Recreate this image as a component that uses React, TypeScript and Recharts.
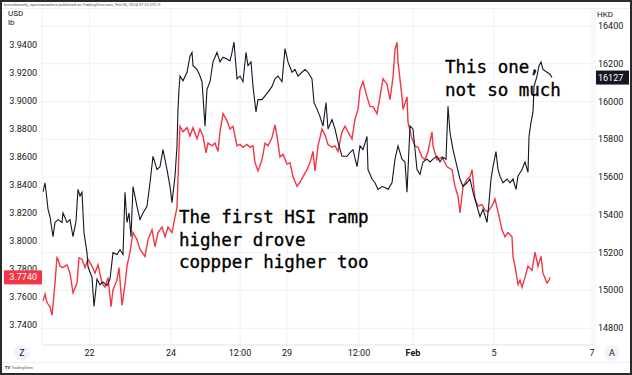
import React from 'react';
import { LineChart, Line, XAxis, YAxis, CartesianGrid } from 'recharts';

// Copper futures, USD/lb, as [bar, close]
const copperSeries: [number, number][] = [
  [1, 3.757], [3, 3.762], [5, 3.756], [8, 3.753], [10, 3.747], [11, 3.754], [13, 3.77], [15, 3.788],
  [16, 3.787], [18, 3.782], [21, 3.781], [25, 3.783], [28, 3.777], [31, 3.763], [35, 3.77], [37, 3.788],
  [40, 3.787], [43, 3.781], [46, 3.787], [50, 3.782], [53, 3.777], [56, 3.783], [60, 3.77], [63, 3.767],
  [66, 3.774], [69, 3.753], [71, 3.765], [75, 3.772], [77, 3.781], [80, 3.754], [83, 3.769], [85, 3.782],
  [88, 3.792], [91, 3.806], [95, 3.801], [98, 3.794], [103, 3.789], [106, 3.801], [110, 3.808], [113, 3.796],
  [116, 3.806], [120, 3.81], [123, 3.803], [126, 3.81], [130, 3.806], [133, 3.817], [135, 3.824], [136, 3.844],
  [137, 3.865], [138, 3.882], [141, 3.878], [145, 3.881], [148, 3.875], [151, 3.881], [155, 3.873], [158, 3.88],
  [161, 3.875], [164, 3.863], [166, 3.87], [170, 3.868], [173, 3.87], [176, 3.864], [178, 3.878], [181, 3.891],
  [185, 3.886], [188, 3.88], [191, 3.882], [195, 3.868], [198, 3.869], [201, 3.867], [205, 3.869], [208, 3.867],
  [211, 3.868], [213, 3.856], [216, 3.85], [220, 3.858], [223, 3.87], [226, 3.868], [230, 3.874], [233, 3.883],
  [235, 3.875], [238, 3.86], [241, 3.862], [245, 3.855], [248, 3.856], [251, 3.846], [255, 3.839], [258, 3.842],
  [261, 3.846], [265, 3.851], [268, 3.856], [271, 3.864], [273, 3.85], [276, 3.868], [280, 3.88], [283, 3.876],
  [286, 3.869], [290, 3.867], [293, 3.868], [296, 3.864], [300, 3.878], [303, 3.882], [306, 3.878], [310, 3.873],
  [313, 3.887], [316, 3.894], [318, 3.908], [321, 3.914], [325, 3.903], [328, 3.896], [331, 3.896], [335, 3.891],
  [338, 3.903], [341, 3.916], [345, 3.912], [348, 3.901], [351, 3.917], [353, 3.937], [355, 3.942], [356, 3.928],
  [360, 3.903], [361, 3.894], [365, 3.903], [366, 3.885], [370, 3.873], [373, 3.868], [376, 3.867], [380, 3.86],
  [383, 3.858], [386, 3.864], [390, 3.878], [391, 3.868], [395, 3.858], [400, 3.86], [405, 3.853], [410, 3.851],
  [413, 3.839], [416, 3.832], [418, 3.82], [421, 3.839], [425, 3.844], [428, 3.846], [430, 3.851], [433, 3.83],
  [436, 3.825], [440, 3.826], [443, 3.822], [446, 3.821], [450, 3.825], [453, 3.83], [456, 3.821], [460, 3.808],
  [463, 3.803], [466, 3.806], [470, 3.803], [471, 3.789], [473, 3.782], [476, 3.769], [478, 3.772], [480, 3.767],
  [483, 3.774], [486, 3.782], [490, 3.779], [493, 3.792], [496, 3.782], [499, 3.789], [501, 3.777], [505, 3.77],
  [507, 3.772], [508, 3.774],
];

// Hang Seng futures, HKD, as [bar, close]
const hsiSeries: [number, number][] = [
  [1, 15520], [3, 15570], [5, 15480], [6, 15430], [8, 15390], [11, 15285], [13, 15360], [16, 15375],
  [20, 15360], [21, 15410], [25, 15360], [28, 15375], [31, 15285], [34, 15365], [36, 15535], [38, 15500],
  [40, 15520], [42, 15305], [45, 15200], [46, 15125], [50, 15070], [52, 14915], [55, 15060], [58, 15030],
  [61, 15045], [65, 15025], [68, 15060], [71, 15200], [75, 15190], [78, 15215], [81, 15190], [83, 15520],
  [85, 15360], [87, 15410], [89, 15285], [91, 15550], [95, 15445], [98, 15375], [101, 15410], [105, 15445],
  [108, 15570], [111, 15710], [115, 15640], [118, 15655], [121, 15745], [125, 15640], [128, 15550], [130, 15465],
  [133, 15605], [135, 15765], [136, 15960], [137, 16065], [138, 16135], [141, 16110], [145, 16155], [148, 16240],
  [150, 16260], [151, 16190], [155, 16170], [158, 16135], [160, 16105], [163, 15870], [165, 16065], [168, 16105],
  [171, 16210], [175, 16260], [178, 16210], [181, 16235], [185, 16225], [188, 16215], [190, 16260], [192, 16315],
  [195, 16120], [198, 16135], [201, 16105], [204, 16260], [206, 16190], [209, 16210], [211, 16080], [214, 15945],
  [216, 16010], [220, 16010], [223, 16030], [226, 16050], [230, 16080], [233, 16120], [236, 16135], [240, 16105],
  [243, 16280], [246, 16210], [250, 16155], [253, 16170], [256, 16135], [260, 16155], [263, 16170], [266, 16155],
  [270, 16120], [272, 15995], [275, 15960], [278, 15920], [281, 15870], [284, 15995], [286, 15855], [290, 15905],
  [293, 15855], [296, 15785], [300, 15710], [305, 15710], [308, 15730], [311, 15745], [315, 15655], [318, 15765],
  [321, 15745], [325, 15815], [326, 15640], [330, 15590], [333, 15570], [336, 15535], [340, 15550], [343, 15545],
  [346, 15535], [350, 15570], [353, 15695], [356, 15765], [360, 15695], [363, 15680], [365, 15520], [368, 15870],
  [371, 15855], [373, 15745], [375, 15640], [378, 15615], [381, 15680], [385, 15695], [388, 15680], [391, 15695],
  [395, 15710], [398, 15680], [401, 15705], [404, 15695], [406, 15975], [408, 15835], [411, 15745], [415, 15655],
  [418, 15590], [421, 15550], [425, 15570], [428, 15590], [431, 15520], [435, 15445], [438, 15390], [441, 15430],
  [445, 15360], [447, 15465], [449, 15590], [451, 15655], [454, 15735], [456, 15640], [458, 15605], [461, 15570],
  [465, 15590], [468, 15570], [471, 15590], [474, 15535], [476, 15605], [480, 15640], [483, 15680], [486, 15625],
  [487, 15815], [489, 15890], [491, 15945], [492, 16080], [495, 16135], [497, 16190], [499, 16210], [501, 16170],
  [505, 16155], [508, 16145], [510, 16127],
];

const xTickBars = [47.5, 129, 198, 245, 317, 371, 452, 550];
const xTickLabels = ['22', '24', '12:00', '29', '12:00', 'Feb', '5', '7'];
const usdTicks = [3.74, 3.76, 3.78, 3.8, 3.82, 3.84, 3.86, 3.88, 3.9, 3.92, 3.94];
const hkdTicks = [14800, 15000, 15200, 15400, 15600, 15800, 16000, 16200, 16400];
const lastCopper = 3.774;
const lastHsi = 16127;

const copperData = copperSeries.map(([bar, usd]) => ({ bar, usd }));
const hsiData = hsiSeries.map(([bar, hkd]) => ({ bar, hkd }));

const FONT = 'Roboto, "DejaVu Sans", sans-serif';
const MONO = '"DejaVu Sans Mono", monospace';
const INK = '#131722';
const RED = '#f23645';

const UsdTick = ({ y, payload }: any) => {
  const label = payload.value.toFixed(4);
  if (payload.value === lastCopper) {
    return (
      <g>
        <rect x={4} y={y - 7} width={38} height={14} fill={RED} />
        <text x={37} y={y} textAnchor="end" dominantBaseline="central" fontSize={9} fontFamily={FONT} fill="#fff">
          {label}
        </text>
      </g>
    );
  }
  return (
    <text x={37} y={y} textAnchor="end" dominantBaseline="central" fontSize={9} fontFamily={FONT} fill={INK}>
      {label}
    </text>
  );
};

const HkdTick = ({ y, payload }: any) => {
  if (payload.value === lastHsi) {
    return (
      <g>
        <rect x={596} y={y - 7} width={33} height={14} fill={INK} />
        <text x={598} y={y} dominantBaseline="central" fontSize={9} fontFamily={FONT} fill="#fff">
          {payload.value}
        </text>
      </g>
    );
  }
  return (
    <text x={598} y={y} dominantBaseline="central" fontSize={9} fontFamily={FONT} fill={INK}>
      {payload.value}
    </text>
  );
};

const DateTick = ({ x, y, payload }: any) => {
  const label = xTickLabels[xTickBars.indexOf(payload.value)];
  return (
    <text x={x} y={y} textAnchor="middle" dominantBaseline="central" fontSize={9} fontFamily={FONT}
      fontWeight={label === 'Feb' ? 'bold' : 'normal'} fill={INK}>
      {label}
    </text>
  );
};

export default function App() {
  return (
    <div style={{ position: 'relative', width: 632, height: 375, background: '#fff' }}>
      <style>{'body{margin:0}'}</style>
      <LineChart width={632} height={375} margin={{ top: 9, right: 0, bottom: 0, left: 0 }}>
        <CartesianGrid yAxisId="hkd" horizontalValues={hkdTicks} verticalValues={xTickBars} stroke="#eef0f5" />
        <XAxis type="number" dataKey="bar" domain={[0, 553]} ticks={xTickBars} interval={0} height={30}
          allowDataOverflow tickSize={6} tickMargin={2} tickLine={false} axisLine={{ stroke: '#e0e3eb' }}
          tick={<DateTick />} />
        <YAxis yAxisId="usd" orientation="left" width={42} domain={[3.72566, 3.96581]} ticks={[...usdTicks, lastCopper]}
          interval={0} allowDataOverflow tickLine={false} axisLine={{ stroke: '#eef0f4' }} tick={<UsdTick />} />
        <YAxis yAxisId="hkd" orientation="right" width={37} domain={[14711, 16490]} ticks={[...hkdTicks, lastHsi]}
          interval={0} allowDataOverflow tickLine={false} axisLine={{ stroke: '#eef0f4' }} tick={<HkdTick />} />
        <Line yAxisId="usd" data={copperData} dataKey="usd" type="linear" stroke={RED} strokeWidth={1.4}
          dot={false} activeDot={false} isAnimationActive={false} />
        <Line yAxisId="hkd" data={hsiData} dataKey="hkd" type="linear" stroke={INK} strokeWidth={1.1}
          dot={false} activeDot={false} isAnimationActive={false} />
      </LineChart>

      <svg width={632} height={375} style={{ position: 'absolute', left: 0, top: 0, pointerEvents: 'none' }}>
        {/* header */}
        <text x={4} y={6} fontSize={4} fontFamily={FONT} fill="#555">
          brentdonnelly_spectramarkets published on TradingView.com, Feb 06, 2024 07:23 UTC-5
        </text>
        <line x1={2} x2={630} y1={8.5} y2={8.5} stroke="#e0e3eb" strokeWidth={0.6} />
        <text x={8} y={16} fontSize={8} fontFamily={FONT} fill={INK}>USD</text>
        <text x={8} y={24.5} fontSize={8} fontFamily={FONT} fill={INK}>lb</text>
        <text x={597} y={17} fontSize={8} fontFamily={FONT} fill={INK}>HKD</text>

        {/* annotations */}
        <g fontFamily={MONO} fontSize={17.5} fill="#000" stroke="#000" strokeWidth={0.35}>
          <text x={179} y={223}>The first HSI ramp</text>
          <text x={179} y={245.5}>higher drove</text>
          <text x={179} y={268}>coppper higher too</text>
          <text x={445} y={73}>This one,</text>
          <text x={445} y={96}>not so much</text>
        </g>

        {/* bottom strip */}
        <rect x={596} y={346} width={34} height={16} fill="#fff" />
        <line x1={2} x2={630} y1={362.5} y2={362.5} stroke="#e0e3eb" strokeWidth={0.6} />
        <circle cx={22} cy={353} r={8} fill="#f0f3fa" />
        <text x={22} y={353} textAnchor="middle" dominantBaseline="central" fontSize={9} fontFamily={FONT} fill={INK}>Z</text>
        <circle cx={612} cy={353} r={8} fill="#f0f3fa" />
        <text x={612} y={353} textAnchor="middle" dominantBaseline="central" fontSize={9} fontFamily={FONT} fill={INK}>A</text>
        <text x={5} y={369} fontSize={4} fontFamily={FONT} fontWeight="bold" fill={INK}>TV</text>
        <text x={11} y={369} fontSize={4} fontFamily={FONT} fill="#555">TradingView</text>

        {/* frame */}
        <rect x={1} y={1} width={630} height={373} fill="none" stroke="#2b2b2b" strokeWidth={2} />
      </svg>
    </div>
  );
}
